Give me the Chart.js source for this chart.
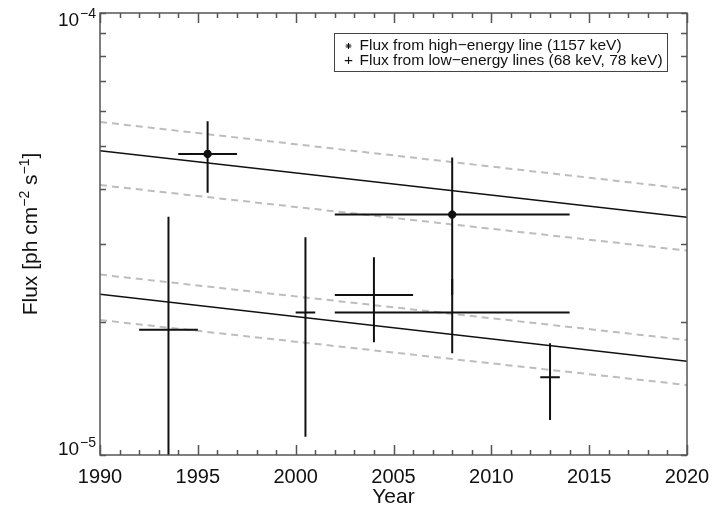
<!DOCTYPE html>
<html>
<head>
<meta charset="utf-8">
<script src="https://cdn.jsdelivr.net/npm/chart.js@4.4.1/dist/chart.umd.min.js"></script>
<style>
  html, body { margin: 0; padding: 0; background: #fff; }
  #wrap { position: relative; width: 712px; height: 507px; }
</style>
</head>
<body>
<div id="wrap"><canvas id="flux"></canvas></div>
<script>
// ─── Decay fits (flux at the two ends of the time range) ─────────────────────
const fitYears  = [1990, 2020];
const hiFit     = [4.88e-5, 3.45e-5];
const hiFitUp   = [5.67e-5, 4.00e-5];
const hiFitDn   = [4.08e-5, 2.90e-5];
const loFit     = [2.31e-5, 1.63e-5];
const loFitUp   = [2.56e-5, 1.82e-5];
const loFitDn   = [2.02e-5, 1.44e-5];

// ─── High-energy line (1157 keV) measurements ────────────────────────────────
const hiYear    = [1995.5, 2008];
const hiYearLo  = [1994, 2002];
const hiYearHi  = [1997, 2014];
const hiFlux    = [4.80e-5, 3.50e-5];
const hiFluxLo  = [3.92e-5, 2.30e-5];
const hiFluxHi  = [5.69e-5, 4.71e-5];

// ─── Low-energy lines (68 keV, 78 keV) measurements ──────────────────────────
const loYear    = [1993.5, 2000.5, 2004, 2008, 2013];
const loYearLo  = [1992, 2000, 2002, 2002, 2012.5];
const loYearHi  = [1995, 2001, 2006, 2014, 2013.5];
const loFlux    = [1.92e-5, 2.10e-5, 2.30e-5, 2.10e-5, 1.50e-5];
const loFluxLo  = [0.38e-5, 1.10e-5, 1.80e-5, 1.70e-5, 1.20e-5];
const loFluxHi  = [3.46e-5, 3.11e-5, 2.80e-5, 2.50e-5, 1.79e-5];

// ─── Axes ────────────────────────────────────────────────────────────────────
const xMin = 1990, xMax = 2020, xMajorStep = 5;
const yTicks  = [1e-5, 2e-5, 3e-5, 4e-5, 5e-5, 6e-5, 7e-5, 8e-5, 9e-5, 1e-4];
const yLabels = [{ v: 1e-5, exp: '\u22125' }, { v: 1e-4, exp: '\u22124' }];

const FONT  = "'Liberation Sans', Arial, Helvetica, sans-serif";
const INK   = '#111';
const FRAME = '#555';
const DASH  = '#bdbdbd';

const toPts = (xs, ys) => xs.map((x, i) => ({ x, y: ys[i] }));

// Horizontal + vertical error bars as one broken line (null = pen up)
function errorSegments(x, xlo, xhi, y, ylo, yhi) {
  const pts = [];
  x.forEach((xi, i) => {
    pts.push({ x: xlo[i], y: y[i] }, { x: xhi[i], y: y[i] }, { x: xi, y: null });
    pts.push({ x: xi, y: yhi[i] }, { x: xi, y: ylo[i] }, { x: xi, y: null });
  });
  return pts;
}

const fitLine = (data, dashed) => ({
  type: 'line',
  data,
  borderColor: dashed ? DASH : INK,
  borderWidth: dashed ? 2 : 1.5,
  borderDash: dashed ? [7, 5] : [],
  pointRadius: 0,
  tension: 0,
  order: dashed ? 3 : 2,
});

// ─── Frame, inward ticks, y labels, y title, legend box ─────────────────────
const framePlugin = {
  id: 'frame',
  afterDatasetsDraw(chart) {
    const { ctx, chartArea: a, scales: { x, y } } = chart;
    ctx.save();
    ctx.strokeStyle = FRAME;
    ctx.lineWidth = 1.5;
    ctx.strokeRect(a.left, a.top, a.right - a.left, a.bottom - a.top);

    ctx.beginPath();
    for (let yr = xMin; yr <= xMax; yr++) {
      const px = Math.round(x.getPixelForValue(yr)) + 0.5;
      const len = (yr - xMin) % xMajorStep === 0 ? 10 : 5;
      ctx.moveTo(px, a.bottom); ctx.lineTo(px, a.bottom - len);
      ctx.moveTo(px, a.top);    ctx.lineTo(px, a.top + len);
    }
    yTicks.forEach(v => {
      const py = Math.round(y.getPixelForValue(v)) + 0.5;
      ctx.moveTo(a.left, py);  ctx.lineTo(a.left + 6, py);
      ctx.moveTo(a.right, py); ctx.lineTo(a.right - 6, py);
    });
    ctx.stroke();

    // y tick labels: 10 with superscript exponent
    ctx.fillStyle = INK;
    ctx.textBaseline = 'alphabetic';
    yLabels.forEach(({ v, exp }) => {
      const py = y.getPixelForValue(v);
      const base = v === y.max ? py + 12.5 : py - 0.5;
      ctx.font = `14px ${FONT}`;
      ctx.textAlign = 'right';
      ctx.fillText(exp, a.left - 4, base - 8);
      const ew = ctx.measureText(exp).width;
      ctx.font = `19px ${FONT}`;
      ctx.fillText('10', a.left - 5 - ew, base);
    });

    // y axis title with superscripts
    const parts = [
      ['Flux [ph cm', 21, 0], ['\u22122', 14, -8], [' s', 21, 0], ['\u22121', 14, -8], [']', 21, 0],
    ];
    ctx.translate(37, (a.top + a.bottom) / 2);
    ctx.rotate(-Math.PI / 2);
    ctx.textAlign = 'left';
    let total = 0;
    parts.forEach(([t, s]) => { ctx.font = `${s}px ${FONT}`; total += ctx.measureText(t).width; });
    let cx = -total / 2;
    parts.forEach(([t, s, dy]) => {
      ctx.font = `${s}px ${FONT}`;
      ctx.fillText(t, cx, dy);
      cx += ctx.measureText(t).width;
    });
    ctx.restore();

    // legend
    ctx.save();
    const bx = 334.5, by = 33.5, bw = 333, bh = 38;
    ctx.strokeStyle = '#444';
    ctx.lineWidth = 1;
    ctx.strokeRect(bx, by, bw, bh);
    ctx.strokeStyle = INK;
    ctx.fillStyle = INK;
    Chart.helpers.drawPoint(ctx, { pointStyle: 'star', radius: 3, borderWidth: 2 }, bx + 14, by + 12.5);
    ctx.font = `15.5px ${FONT}`;
    ctx.textBaseline = 'middle';
    ctx.textAlign = 'center';
    ctx.fillText('+', bx + 14, by + 27.5);
    ctx.textAlign = 'left';
    ctx.fillText('Flux from high\u2212energy line (1157 keV)', bx + 25, by + 12.5);
    ctx.fillText('Flux from low\u2212energy lines (68 keV, 78 keV)', bx + 25, by + 27.5);
    ctx.restore();
  },
};

new Chart(document.getElementById('flux'), {
  type: 'line',
  data: {
    datasets: [
      fitLine(toPts(fitYears, hiFitUp), true),
      fitLine(toPts(fitYears, hiFitDn), true),
      fitLine(toPts(fitYears, loFitUp), true),
      fitLine(toPts(fitYears, loFitDn), true),
      fitLine(toPts(fitYears, hiFit), false),
      fitLine(toPts(fitYears, loFit), false),
      {
        data: errorSegments(hiYear, hiYearLo, hiYearHi, hiFlux, hiFluxLo, hiFluxHi),
        borderColor: INK, borderWidth: 2, pointRadius: 0, spanGaps: false, order: 1,
      },
      {
        data: errorSegments(loYear, loYearLo, loYearHi, loFlux, loFluxLo, loFluxHi),
        borderColor: INK, borderWidth: 2, pointRadius: 0, spanGaps: false, order: 1,
      },
      {
        type: 'scatter',
        data: toPts(hiYear, hiFlux),
        pointStyle: 'star',
        pointRadius: 4,
        borderColor: INK,
        backgroundColor: INK,
        borderWidth: 3,
        order: 0,
      },
    ],
  },
  options: {
    responsive: true,
    maintainAspectRatio: false,
    animation: false,
    layout: { padding: { top: 13, right: 25, left: 0, bottom: 0 } },
    plugins: { legend: { display: false }, tooltip: { enabled: false } },
    scales: {
      x: {
        type: 'linear',
        min: xMin,
        max: xMax,
        grid: { display: false, drawTicks: false },
        border: { display: false },
        ticks: {
          stepSize: xMajorStep,
          padding: 10,
          color: INK,
          font: { family: FONT, size: 20 },
          callback: v => String(v),
        },
        title: {
          display: true, text: 'Year', color: INK,
          padding: { top: 0, bottom: -3 },
          font: { family: FONT, size: 21 },
        },
        afterFit: s => { s.height = 52; s.paddingLeft = 0; s.paddingRight = 0; },
      },
      y: {
        type: 'logarithmic',
        min: 1e-5,
        max: 1e-4,
        grid: { display: false, drawTicks: false },
        border: { display: false },
        ticks: { display: false },
        afterFit: s => { s.width = 100; },
      },
    },
  },
  plugins: [framePlugin],
});
</script>
</body>
</html>
